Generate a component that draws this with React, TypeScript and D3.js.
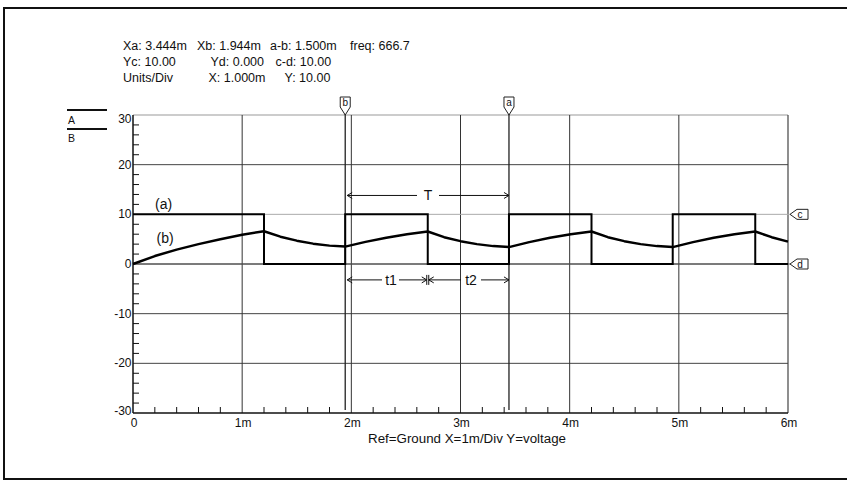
import React from "react";
import * as d3 from "d3";

// ---- data ----
const TIME_A = [0, 1.2, 1.2, 1.944, 1.944, 2.7, 2.7, 3.444, 3.444, 4.2, 4.2, 4.944, 4.944, 5.7, 5.7, 6];
const VOLT_A = [10, 10, 0, 0, 10, 10, 0, 0, 10, 10, 0, 0, 10, 10, 0, 0];

const TIME_B = [
  0, 0.2, 0.4, 0.6, 0.8, 1.0, 1.2,
  1.35, 1.5, 1.65, 1.8, 1.944,
  2.13, 2.32, 2.51, 2.7,
  2.85, 3.0, 3.15, 3.3, 3.444,
  3.63, 3.82, 4.01, 4.2,
  4.35, 4.5, 4.65, 4.8, 4.944,
  5.13, 5.32, 5.51, 5.7,
  5.85, 6.0,
];
const VOLT_B = [
  0, 1.6, 2.9, 4.0, 5.0, 5.9, 6.6,
  5.5, 4.7, 4.1, 3.7, 3.5,
  4.45, 5.3, 6.0, 6.55,
  5.4, 4.6, 4.0, 3.6, 3.4,
  4.4, 5.3, 6.0, 6.55,
  5.4, 4.6, 4.0, 3.6, 3.4,
  4.4, 5.3, 6.0, 6.55,
  5.4, 4.5,
];

const X_TICKS = [0, 1, 2, 3, 4, 5, 6];
const X_TICK_LABELS = ["0", "1m", "2m", "3m", "4m", "5m", "6m"];
const Y_TICKS = [-30, -20, -10, 0, 10, 20, 30];
const Y_TICK_LABELS = ["-30", "-20", "-10", "0", "10", "20", "30"];

const CURSOR_A = 3.444;
const CURSOR_B = 1.944;
const CURSOR_C = 10;
const CURSOR_D = 0;

const HEADER_LINES = [
  ["Xa: 3.444m", "Xb: 1.944m", "a-b: 1.500m", "freq: 666.7"],
  ["Yc: 10.00", "Yd: 0.000", "c-d: 10.00"],
  ["Units/Div", "X: 1.000m", "Y: 10.00"],
];
const FOOTER = "Ref=Ground  X=1m/Div Y=voltage";

// ---- layout (not data) ----
const HEADER_X = [
  [123, 197, 270, 350],
  [123, 210.5, 275.5],
  [123, 208.5, 284.5],
];
const HEADER_Y = [49.5, 65.5, 81.5];

const FONT = "'Liberation Sans', Arial, sans-serif";

export default function App() {
  const x = d3.scaleLinear().domain([0, 6]).range([133, 788]);
  const y = d3.scaleLinear().domain([-30, 30]).range([413, 115]);

  const lineA = d3
    .line<number>()
    .x((_, i) => x(TIME_A[i]))
    .y((d) => y(d));
  const lineB = d3
    .line<number>()
    .x((_, i) => x(TIME_B[i]))
    .y((d) => y(d));

  const yMinor = d3.range(-30, 30.001, 2).filter((v) => Math.abs(v % 10) > 0.01);
  const xMinor = d3.range(0, 6.001, 0.2).filter((v) => Math.abs(v - Math.round(v)) > 0.01);

  const [x0, x1] = x.range();
  const [yb, yt] = y.range();

  const arrowL = (px: number, py: number) => `M${px + 5},${py - 3}L${px},${py}L${px + 5},${py + 3}`;
  const arrowR = (px: number, py: number) => `M${px - 5},${py - 3}L${px},${py}L${px - 5},${py + 3}`;

  const xb = x(CURSOR_B);
  const xa = x(CURSOR_A);
  const xMid = x(2.7);
  const yT = y(13.8);
  const yT1 = y(-3.2);

  const topMarker = (cx: number, label: string) => (
    <g key={label}>
      <path
        d={`M${cx - 5},97H${cx + 5}V107L${cx},${yt}L${cx - 5},107Z`}
        fill="white"
        stroke="#222"
        strokeWidth={1}
      />
      <text x={cx} y={106} fontSize={10} textAnchor="middle" fontFamily={FONT} fill="#111">
        {label}
      </text>
    </g>
  );

  const rightMarker = (vy: number, label: string) => (
    <g key={label}>
      <path
        d={`M790,${vy}L797,${vy - 5}H808V${vy + 5}H797Z`}
        fill="white"
        stroke="#222"
        strokeWidth={1}
      />
      <text x={800} y={vy + 4} fontSize={10} textAnchor="middle" fontFamily={FONT} fill="#111">
        {label}
      </text>
    </g>
  );

  return (
    <svg
      width={847}
      height={480}
      style={{ position: "absolute", left: 0, top: 0, background: "white" }}
      fontFamily={FONT}
    >
      <rect x={0} y={0} width={847} height={480} fill="white" />
      {/* outer frame */}
      <rect x={4} y={8} width={860} height={471} fill="none" stroke="#111" strokeWidth={2} />

      {/* header */}
      {HEADER_LINES.map((line, li) =>
        line.map((s, si) => (
          <text key={`${li}-${si}`} x={HEADER_X[li][si]} y={HEADER_Y[li]} fontSize={12.5} fill="#111">
            {s}
          </text>
        ))
      )}

      {/* legend */}
      <line x1={67} x2={107} y1={110} y2={110} stroke="#111" strokeWidth={2} />
      <text x={68} y={123.5} fontSize={10.5} fill="#111">A</text>
      <line x1={67} x2={107} y1={129} y2={129} stroke="#111" strokeWidth={2} />
      <text x={68} y={142.3} fontSize={10.5} fill="#111">B</text>

      {/* grid */}
      {Y_TICKS.filter((v) => v !== -30 && v !== 30 && v !== CURSOR_C).map((v) => (
        <line key={`hy${v}`} x1={x0} x2={x1} y1={y(v)} y2={y(v)} stroke="#444" strokeWidth={1} />
      ))}
      <line x1={x0} x2={x1} y1={yt} y2={yt} stroke="#999" strokeWidth={1} />
      {X_TICKS.filter((v) => v !== 0 && v !== 6).map((v) => (
        <line key={`vx${v}`} x1={x(v)} x2={x(v)} y1={yt} y2={yb} stroke="#333" strokeWidth={1} />
      ))}
      <line x1={x1} x2={x1} y1={yt} y2={yb} stroke="#444" strokeWidth={1.2} />

      {/* horizontal cursors */}
      <line x1={x0} x2={790} y1={y(CURSOR_C)} y2={y(CURSOR_C)} stroke="#aaa" strokeWidth={1} />
      <line x1={x0} x2={790} y1={y(CURSOR_D)} y2={y(CURSOR_D)} stroke="#555" strokeWidth={1} />

      {/* vertical cursors */}
      <line x1={xb} x2={xb} y1={107} y2={yb - 3} stroke="#222" strokeWidth={1.3} />
      <line x1={xa} x2={xa} y1={107} y2={yb - 3} stroke="#222" strokeWidth={1.3} />

      {/* axes */}
      <line x1={x0} x2={x0} y1={yt} y2={yb} stroke="#111" strokeWidth={1.5} />
      <line x1={x0} x2={x1} y1={yb} y2={yb} stroke="#111" strokeWidth={1.5} />
      {yMinor.map((v) => (
        <line key={`ym${v}`} x1={x0} x2={x0 + 6} y1={y(v)} y2={y(v)} stroke="#111" strokeWidth={1} />
      ))}
      {xMinor.map((v) => (
        <line key={`xm${v}`} x1={x(v)} x2={x(v)} y1={yb} y2={yb - 6} stroke="#111" strokeWidth={1} />
      ))}

      {/* tick labels */}
      {Y_TICKS.map((v, i) => (
        <text
          key={`yl${v}`}
          x={x0 - 1.5}
          y={y(v) + (v === 30 ? 8 : v === -30 ? 1.5 : 4)}
          fontSize={12}
          textAnchor="end"
          fill="#111"
        >
          {Y_TICK_LABELS[i]}
        </text>
      ))}
      {X_TICKS.map((v, i) => (
        <text key={`xl${v}`} x={x(v) + 1} y={427} fontSize={12} textAnchor="middle" fill="#111">
          {X_TICK_LABELS[i]}
        </text>
      ))}
      <text x={368} y={442.5} fontSize={12} textLength={198} lengthAdjust="spacingAndGlyphs" fill="#111">
        {FOOTER}
      </text>

      {/* waveforms */}
      <path d={lineA(VOLT_A) || ""} fill="none" stroke="#000" strokeWidth={2} />
      <path d={lineB(VOLT_B) || ""} fill="none" stroke="#000" strokeWidth={2.5} strokeLinejoin="round" />

      {/* annotations */}
      <text x={155} y={209} fontSize={14} fill="#111">(a)</text>
      <text x={156.5} y={243} fontSize={14} fill="#111">(b)</text>

      <line x1={xb + 2} x2={417} y1={yT} y2={yT} stroke="#111" strokeWidth={1} />
      <line x1={439} x2={xa} y1={yT} y2={yT} stroke="#111" strokeWidth={1} />
      <path d={arrowL(xb + 2, yT)} fill="none" stroke="#111" strokeWidth={1} />
      <path d={arrowR(xa, yT)} fill="none" stroke="#111" strokeWidth={1} />
      <text x={428} y={yT + 5} fontSize={14} textAnchor="middle" fill="#111">T</text>

      <line x1={xb + 2} x2={382} y1={yT1} y2={yT1} stroke="#111" strokeWidth={1} />
      <line x1={399} x2={xMid - 1} y1={yT1} y2={yT1} stroke="#111" strokeWidth={1} />
      <path d={arrowL(xb + 2, yT1)} fill="none" stroke="#111" strokeWidth={1} />
      <path d={arrowR(xMid - 1, yT1)} fill="none" stroke="#111" strokeWidth={1} />
      <line x1={xMid - 1} x2={xMid - 1} y1={yT1 - 5} y2={yT1 + 5} stroke="#111" strokeWidth={1} />
      <line x1={xMid + 1} x2={xMid + 1} y1={yT1 - 5} y2={yT1 + 5} stroke="#111" strokeWidth={1} />
      <text x={391} y={285} fontSize={14} textAnchor="middle" fill="#111">t1</text>

      <line x1={xMid + 1} x2={461} y1={yT1} y2={yT1} stroke="#111" strokeWidth={1} />
      <line x1={481} x2={xa} y1={yT1} y2={yT1} stroke="#111" strokeWidth={1} />
      <path d={arrowL(xMid + 1, yT1)} fill="none" stroke="#111" strokeWidth={1} />
      <path d={arrowR(xa, yT1)} fill="none" stroke="#111" strokeWidth={1} />
      <text x={471} y={285} fontSize={14} textAnchor="middle" fill="#111">t2</text>

      {/* cursor markers */}
      {topMarker(xb, "b")}
      {topMarker(xa, "a")}
      {rightMarker(y(CURSOR_C), "c")}
      {rightMarker(y(CURSOR_D), "d")}
    </svg>
  );
}
